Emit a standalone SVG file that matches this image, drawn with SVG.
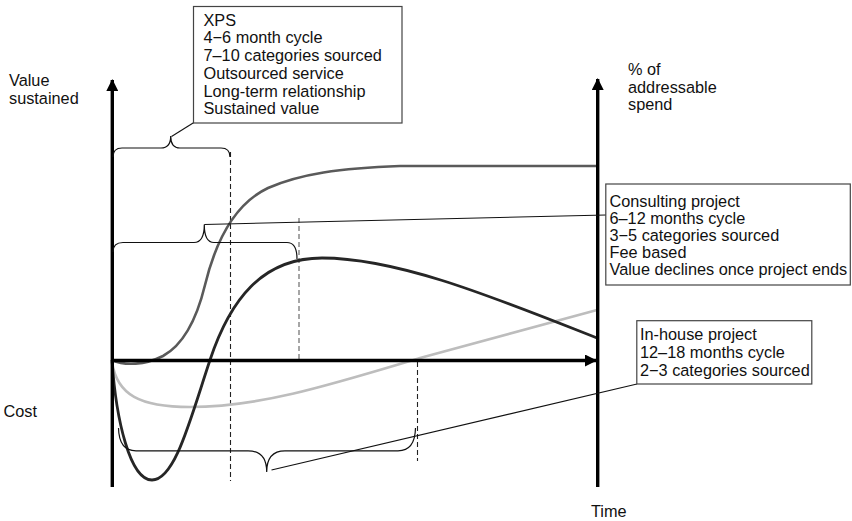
<svg xmlns="http://www.w3.org/2000/svg" width="852" height="521" viewBox="0 0 852 521">
  <style>
    .lbl { font-family: "Liberation Sans", Arial, sans-serif; font-size: 16.3px; fill: #111; }
    .box { fill: #fff; stroke: #444; stroke-width: 1.2; }
    .axis { stroke: #000; stroke-width: 3.4; fill: none; }
    .brace { stroke: #111; stroke-width: 1.2; fill: none; }
    .lead { stroke: #111; stroke-width: 1.1; fill: none; }
    .dash { stroke: #222; stroke-width: 1.1; stroke-dasharray: 5 3; fill: none; }
    .dash-gray { stroke: #777; stroke-width: 1.3; stroke-dasharray: 5 3; fill: none; }
  </style>
  <defs>
    <marker id="arrow" viewBox="0 0 12 12" refX="11" refY="6" markerWidth="12" markerHeight="12" markerUnits="userSpaceOnUse" orient="auto">
      <path d="M0,0 L12,6 L0,12 Z" fill="#000"/>
    </marker>
  </defs>
  <rect width="852" height="521" fill="#fff"/>

  <!-- axis labels -->
  <g id="axis-labels">
    <text class="lbl" x="9" y="86">Value</text>
    <text class="lbl" x="9" y="103.5">sustained</text>
    <text class="lbl" x="628" y="75">% of</text>
    <text class="lbl" x="628" y="92.5">addressable</text>
    <text class="lbl" x="628" y="110">spend</text>
    <text class="lbl" x="3.5" y="417">Cost</text>
    <text class="lbl" x="591" y="517">Time</text>
  </g>

  <!-- dashed guide lines -->
  <g id="guides">
    <line class="dash" x1="230.5" y1="152" x2="230.5" y2="481"/>
    <line class="dash-gray" x1="299" y1="218" x2="299" y2="359"/>
    <line class="dash" x1="417.5" y1="362" x2="417.5" y2="461"/>
  </g>

  <!-- curves -->
  <g id="curves">
    <path id="curve-inhouse" d="M112,362 C117,395 140,407 190,407 C260,407 330,385 420,358 L597,310" fill="none" stroke="#bdbdbd" stroke-width="2.6"/>
    <path id="curve-xps" d="M112,360 C125,366 145,365 163,356 C183,345 196,322 205,285 C214,248 232,205 268,188 C300,174 340,168 400,166 L597,166" fill="none" stroke="#5a5a5a" stroke-width="2.6"/>
    <path id="curve-consulting" d="M112,360 C116,420 130,480 152,480 C175,480 190,420 210,360 C230,300 262,258 322,258 C400,258 500,300 597,338" fill="none" stroke="#262626" stroke-width="2.8"/>
  </g>

  <!-- axes -->
  <g id="axes">
    <line class="axis" x1="112.3" y1="487" x2="112.3" y2="80" marker-end="url(#arrow)"/>
    <line class="axis" x1="597.7" y1="487" x2="597.7" y2="79" marker-end="url(#arrow)"/>
    <line class="axis" x1="112" y1="360.5" x2="596" y2="360.5" marker-end="url(#arrow)"/>
  </g>

  <!-- braces and leader lines -->
  <g id="connectors">
    <path class="brace" d="M113,157 Q113,148 122,148 L161,148 Q170.7,148 170.7,136 Q170.7,148 180,148 L221,148 Q230,148 230,157"/>
    <line class="lead" x1="171.5" y1="136.5" x2="193.5" y2="122.7"/>
    <path class="brace" d="M113,252 Q113,242.5 123,242.5 L194,242.5 Q204.3,242.5 204.3,224.5 Q204.3,242.5 214,242.5 L287,242.5 Q297,242.5 297,259"/>
    <line class="lead" x1="204.3" y1="224.5" x2="606" y2="215" stroke="#333"/>
    <path class="brace" d="M118.5,428 Q119,450.8 136,450.8 L248,450.8 Q266.7,450.8 266.7,472 Q266.7,450.8 285,450.8 L398,450.8 Q415,450.8 415.5,428"/>
    <line class="lead" x1="271.5" y1="470" x2="637" y2="384"/>
  </g>

  <!-- annotation nodes -->
  <g id="node-xps">
    <rect class="box" x="193.5" y="6.5" width="208.5" height="116.5"/>
    <text class="lbl" x="203.5" y="25.7">XPS</text>
    <text class="lbl" x="203.5" y="43.4">4−6 month cycle</text>
    <text class="lbl" x="203.5" y="61.1">7–10 categories sourced</text>
    <text class="lbl" x="203.5" y="78.8">Outsourced service</text>
    <text class="lbl" x="203.5" y="96.5">Long-term relationship</text>
    <text class="lbl" x="203.5" y="114.2">Sustained value</text>
  </g>

  <g id="node-consulting">
    <rect class="box" x="605.8" y="184" width="244.5" height="101"/>
    <text class="lbl" x="609.5" y="207.3">Consulting project</text>
    <text class="lbl" x="609.5" y="224.3">6–12 months cycle</text>
    <text class="lbl" x="609.5" y="241.3">3−5 categories sourced</text>
    <text class="lbl" x="609.5" y="258.3">Fee based</text>
    <text class="lbl" x="609.5" y="275.3">Value declines once project ends</text>
  </g>

  <g id="node-inhouse">
    <rect class="box" x="636.8" y="320.7" width="175" height="63.3"/>
    <text class="lbl" x="640" y="340">In-house project</text>
    <text class="lbl" x="640" y="357.8">12–18 months cycle</text>
    <text class="lbl" x="640" y="375.6">2−3 categories sourced</text>
  </g>
</svg>
